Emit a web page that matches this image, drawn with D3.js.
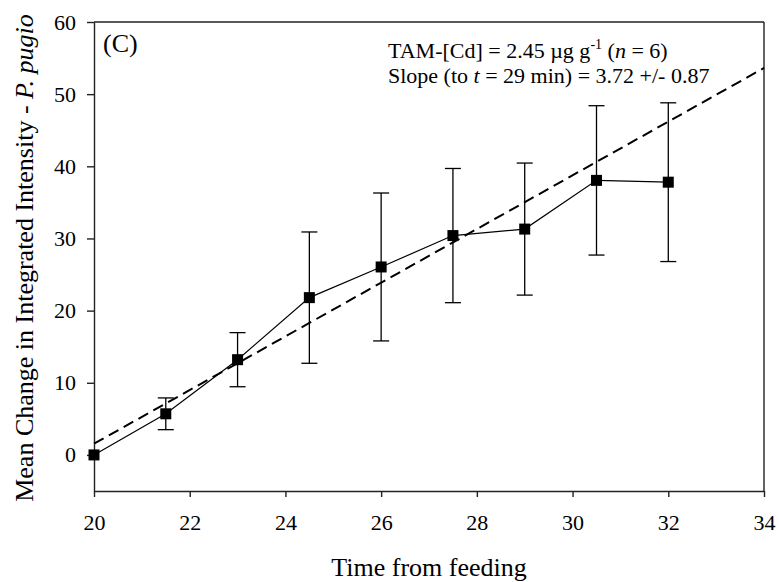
<!DOCTYPE html>
<html>
<head>
<meta charset="utf-8">
<script src="https://cdn.jsdelivr.net/npm/d3@7"></script>
<style>
  body { margin: 0; background: #fff; }
  svg { display: block; }
</style>
</head>
<body>
<svg id="chart" width="779" height="582"></svg>
<script>
// Time after feeding (min) and mean change in integrated intensity
const times = [20, 21.5, 23, 24.5, 26, 27.5, 29, 30.5, 32];
const means = [0, 5.7, 13.2, 21.8, 26.05, 30.4, 31.3, 38.05, 37.8];
const errors = [0, 2.2, 3.75, 9.1, 10.25, 9.3, 9.15, 10.35, 11.0];

// Regression line (fit up to t = 29 min)
const fitX = [20, 34];
const fitIntercept = 1.55;   // value at t = 20
const fitSlope = 3.72;

const xTicks = [20, 22, 24, 26, 28, 30, 32, 34];
const yTicks = [0, 10, 20, 30, 40, 50, 60];

const FONT = "'Liberation Serif', 'Times New Roman', Tinos, 'DejaVu Serif', serif";

const svg = d3.select("#chart");
const m = { left: 94, right: 764, top: 22, bottom: 491 };

const x = d3.scaleLinear().domain([20, 34]).range([m.left, m.right]);
const y = d3.scaleLinear().domain([-5, 60]).range([m.bottom, m.top]);

const axisColor = "#222";

// Frame: top and right borders
svg.append("line").attr("x1", m.left).attr("x2", m.right).attr("y1", m.top).attr("y2", m.top)
  .attr("stroke", axisColor).attr("stroke-width", 1.4);
svg.append("line").attr("x1", m.right).attr("x2", m.right).attr("y1", m.top).attr("y2", m.bottom)
  .attr("stroke", axisColor).attr("stroke-width", 1.4);

// X axis
const gx = svg.append("g").attr("transform", `translate(0,${m.bottom})`)
  .call(d3.axisBottom(x).tickValues(xTicks).tickSize(6).tickSizeOuter(0).tickPadding(17));

// Y axis
const gy = svg.append("g").attr("transform", `translate(${m.left},0)`)
  .call(d3.axisLeft(y).tickValues(yTicks).tickSize(7).tickSizeOuter(0).tickPadding(11));

[gx, gy].forEach(g => {
  g.attr("font-family", null).attr("font-size", null);
  g.selectAll("text").style("font-family", FONT).style("font-size", "22px").attr("fill", "#000");
  g.select(".domain").attr("stroke", axisColor).attr("stroke-width", 1.4);
  g.selectAll(".tick line").attr("stroke", axisColor).attr("stroke-width", 1.4);
});

// Fitted regression line
const fitLine = d3.line().x(d => x(d)).y(d => y(fitIntercept + fitSlope * (d - 20)));
svg.append("path").datum(fitX).attr("d", fitLine)
  .attr("fill", "none").attr("stroke", "#000").attr("stroke-width", 2)
  .attr("stroke-dasharray", "11,6");

// Data line
const dataLine = d3.line().x((d, i) => x(times[i])).y(d => y(d));
svg.append("path").datum(means).attr("d", dataLine)
  .attr("fill", "none").attr("stroke", "#000").attr("stroke-width", 1.2);

// Error bars
const capW = 8;
const eb = svg.append("g").attr("stroke", "#000").attr("stroke-width", 1.3);
times.forEach((t, i) => {
  if (errors[i] <= 0) return;
  const cx = x(t), hi = y(means[i] + errors[i]), lo = y(means[i] - errors[i]);
  eb.append("line").attr("x1", cx).attr("x2", cx).attr("y1", hi).attr("y2", lo);
  eb.append("line").attr("x1", cx - capW).attr("x2", cx + capW).attr("y1", hi).attr("y2", hi);
  eb.append("line").attr("x1", cx - capW).attr("x2", cx + capW).attr("y1", lo).attr("y2", lo);
});

// Square markers
const s = 11;
svg.append("g").selectAll("rect").data(means).join("rect")
  .attr("x", (d, i) => x(times[i]) - s / 2)
  .attr("y", d => y(d) - s / 2)
  .attr("width", s).attr("height", s).attr("fill", "#000");

function txt(xp, yp, size) {
  return svg.append("text").attr("x", xp).attr("y", yp)
    .style("font-family", FONT).style("font-size", size + "px").attr("fill", "#000");
}

// Panel label
txt(103, 52, 26).text("(C)");

// Annotation
const a1 = txt(388, 58, 22);
a1.append("tspan").text("TAM-[Cd] = 2.45 \u00b5g g");
a1.append("tspan").attr("dy", -9).style("font-size", "14px").text("-1");
a1.append("tspan").attr("dy", 9).text(" (");
a1.append("tspan").style("font-style", "italic").text("n");
a1.append("tspan").text(" = 6)");

const a2 = txt(388, 83, 22);
a2.append("tspan").text("Slope (to ");
a2.append("tspan").style("font-style", "italic").text("t");
a2.append("tspan").text(" = 29 min) = 3.72 +/- 0.87");

// Axis titles
txt((m.left + m.right) / 2, 576, 26).attr("text-anchor", "middle").text("Time from feeding");

const yt = svg.append("text")
  .attr("transform", `translate(33,258) rotate(-90)`)
  .attr("text-anchor", "middle")
  .style("font-family", FONT).style("font-size", "26px").attr("fill", "#000");
yt.append("tspan").text("Mean Change in Integrated Intensity - ");
yt.append("tspan").style("font-style", "italic").text("P. pugio");
</script>
</body>
</html>
